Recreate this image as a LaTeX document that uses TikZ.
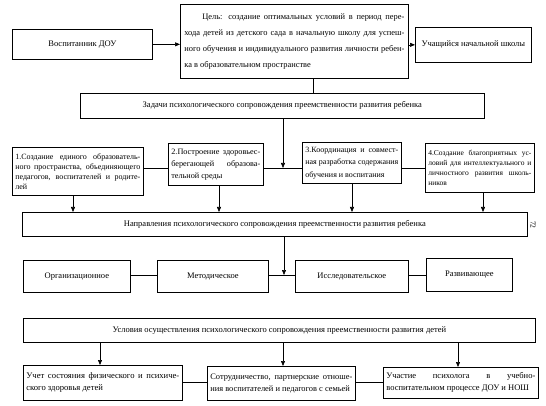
\documentclass[tikz,border=0pt]{standalone}
\usepackage{fontspec}
\setmainfont{Liberation Serif}
\usetikzlibrary{arrows.meta}
\begin{document}
\begin{tikzpicture}[x=1pt,y=-1pt,
  bx/.style={draw, line width=0.7pt, anchor=north west, inner sep=0pt, align=center,
    font=\fontsize{8.5}{10}\selectfont},
  jb/.style={draw, line width=0.7pt, anchor=north west, inner xsep=3pt, inner ysep=1pt,
    align=justify, font=\fontsize{8}{10}\selectfont,
    execute at begin node={\tolerance=10000\relax\hyphenpenalty=10000\relax}},
  ln/.style={line width=0.6pt},
  arr/.style={line width=0.6pt, -{Triangle[length=5pt,width=4pt]}}
]
\useasboundingbox (0,0) rectangle (546,406);

% top row
\node[bx, minimum width=140pt, minimum height=30pt] (vos) at (12,29) {Воспитанник ДОУ};
\node[jb, text width=220pt, minimum height=74pt, inner xsep=4pt,
  font=\fontsize{8.4}{16}\selectfont] (goal) at (180,4)
  {\hspace*{18pt}Цель: создание оптимальных условий в период пере-\linebreak
   хода детей из детского сада в начальную школу для успеш-\linebreak
   ного обучения и индивидуального развития личности ребен-\linebreak
   ка в образовательном пространстве};
\node[bx, minimum width=116pt, minimum height=35pt] (uch) at (415,27) {Учащийся начальной школы};
\draw[arr] (vos.east) -- (vos.east -| goal.west);
\draw[arr] (goal.east |- uch.west) -- (uch.west);

% tasks
\node[bx, minimum width=404pt, minimum height=25pt] (zad) at (80,93)
  {Задачи психологического сопровождения преемственности развития ребенка};
\coordinate (xg) at (313,0);
\draw[ln] (goal.south -| xg) -- (zad.north -| xg);

\node[jb, text width=125pt, minimum height=48pt] (t1) at (12,147)
  {1.Создание единого образователь-\linebreak
   ного пространства, объединяющего\linebreak
   педагогов, воспитателей и родите-\linebreak
   лей};
\node[jb, text width=89pt, minimum height=42pt, font=\fontsize{8.2}{12}\selectfont] (t2) at (168,143)
  {2.Построение здоровьес-\linebreak
   берегающей образова-\linebreak
   тельной среды};
\node[jb, text width=93pt, minimum height=41pt, font=\fontsize{8}{12.5}\selectfont] (t3) at (302,142)
  {3.Координация и совмест-\linebreak
   ная разработка содержания\linebreak
   обучения и воспитания};
\node[jb, text width=103pt, minimum height=49pt, font=\fontsize{7.5}{10}\selectfont] (t4) at (425,143)
  {4.Создание благоприятных ус-\linebreak
   ловий для интеллектуального и\linebreak
   личностного развития школь-\linebreak
   ников};

\coordinate (hy) at (0,168);
\coordinate (xz) at (283,0);
\draw[arr] (zad.south -| xz) -- (xz |- hy);
\draw[ln] (t1.east |- hy) -- (t2.west |- hy);
\draw[ln] (t2.east |- hy) -- (t3.west |- hy);
\draw[ln] (t3.east |- hy) -- (t4.west |- hy);

% directions
\node[bx, minimum width=505pt, minimum height=24pt] (nap) at (22,212)
  {Направления психологического сопровождения преемственности развития ребенка};
\coordinate (x1) at (73,0);
\coordinate (x2) at (219,0);
\coordinate (x3) at (352,0);
\coordinate (x4) at (483,0);
\draw[arr] (t1.south -| x1) -- (nap.north -| x1);
\draw[arr] (t2.south -| x2) -- (nap.north -| x2);
\draw[arr] (t3.south -| x3) -- (nap.north -| x3);
\draw[arr] (t4.south -| x4) -- (nap.north -| x4);
\node[font=\fontsize{7.5}{8}\selectfont, rotate=-90, inner sep=0pt] (pg) at (533,225) {72};

\node[bx, minimum width=107pt, minimum height=32pt] (d1) at (23,260) {Организационное};
\node[bx, minimum width=111pt, minimum height=32pt] (d2) at (157,260) {Методическое};
\node[bx, minimum width=113pt, minimum height=32pt] (d3) at (295,260) {Исследовательское};
\node[bx, minimum width=86pt, minimum height=33pt] (d4) at (426,258) {Развивающее};
\coordinate (hd) at (0,275);
\coordinate (xn) at (284,0);
\draw[arr] (nap.south -| xn) -- (xn |- hd);
\draw[ln] (d1.east |- hd) -- (d2.west |- hd);
\draw[ln] (d2.east |- hd) -- (d3.west |- hd);
\draw[ln] (d3.east |- hd) -- (d4.west |- hd);

% conditions
\node[bx, minimum width=512pt, minimum height=24pt] (usl) at (23,318)
  {Условия осуществления психологического сопровождения преемственности развития детей};
\node[jb, text width=153pt, minimum height=35pt, font=\fontsize{8.6}{12}\selectfont] (b1) at (23,365)
  {Учет состояния физического и психиче-\linebreak
   ского здоровья детей};
\node[jb, text width=142pt, minimum height=34pt, font=\fontsize{8.4}{12}\selectfont] (b2) at (207,366)
  {Сотрудничество, партнерские отноше-\linebreak
   ния воспитателей и педагогов с семьей};
\node[jb, text width=149pt, minimum height=31pt, font=\fontsize{8.5}{12}\selectfont] (b3) at (383,367)
  {Участие психолога в учебно-\linebreak
   воспитательном процессе ДОУ и НОШ};
\coordinate (y1) at (100,0);
\coordinate (y2) at (283,0);
\coordinate (y3) at (458,0);
\draw[arr] (usl.south -| y1) -- (b1.north -| y1);
\draw[arr] (usl.south -| y2) -- (b2.north -| y2);
\draw[arr] (usl.south -| y3) -- (b3.north -| y3);
\coordinate (hb) at (0,382);
\draw[ln] (b1.east |- hb) -- (b2.west |- hb);
\draw[ln] (b2.east |- hb) -- (b3.west |- hb);
\end{tikzpicture}
\end{document}
